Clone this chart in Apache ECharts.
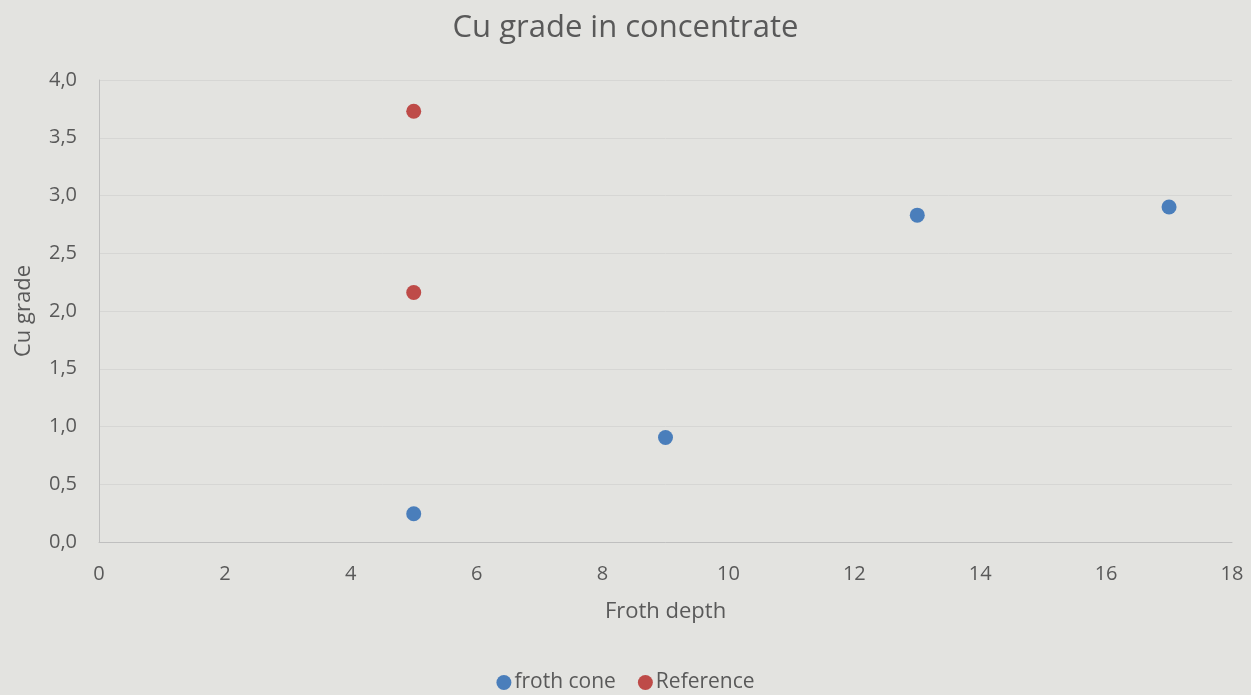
<!DOCTYPE html>
<html>
<head>
<meta charset="utf-8">
<title>Cu grade in concentrate</title>
<script src="https://cdn.jsdelivr.net/npm/echarts@6/dist/echarts.min.js"></script>
<style>
  html, body { margin: 0; padding: 0; background: #e3e3e0; }
  #chart { width: 1251px; height: 695px; }
</style>
</head>
<body>
<div id="chart"></div>
<script>
// froth depth / Cu grade pairs
const frothConeX = [5, 9, 13, 17];
const frothConeY = [0.245, 0.905, 2.83, 2.9];
const referenceX = [5, 5];
const referenceY = [3.73, 2.16];

const textColor = '#595959';
const font = 'Open Sans';

const pairs = (xs, ys) => xs.map((x, i) => [x, ys[i]]);

const chart = echarts.init(document.getElementById('chart'));

chart.setOption({
  backgroundColor: '#e3e3e0',
  textStyle: { fontFamily: font },
  title: {
    text: 'Cu grade in concentrate',
    left: 'center',
    top: 8,
    textStyle: { color: textColor, fontSize: 31, fontWeight: 'normal', fontFamily: font }
  },
  legend: {
    top: 667,
    left: 'center',
    icon: 'circle',
    itemWidth: 15,
    itemHeight: 15,
    itemGap: 22,
    textStyle: { color: textColor, fontSize: 21, fontFamily: font, padding: [0, 0, 0, -2] },
    data: ['froth cone', 'Reference']
  },
  grid: { left: 99, right: 19, top: 80, bottom: 153 },
  xAxis: {
    type: 'value',
    min: 0,
    max: 18,
    interval: 2,
    name: 'Froth depth',
    nameLocation: 'middle',
    nameGap: 59,
    nameTextStyle: { color: textColor, fontSize: 22, fontFamily: font },
    axisLine: { show: true, lineStyle: { color: '#bfbfbf', width: 1 } },
    axisTick: { show: false },
    axisLabel: { color: textColor, fontSize: 20, margin: 22, fontFamily: font },
    splitLine: { show: false }
  },
  yAxis: {
    type: 'value',
    min: 0,
    max: 4,
    interval: 0.5,
    name: 'Cu grade',
    nameLocation: 'middle',
    nameGap: 64,
    nameTextStyle: { color: textColor, fontSize: 22, fontFamily: font },
    axisLine: { show: true, lineStyle: { color: '#bfbfbf', width: 1 } },
    axisTick: { show: false },
    axisLabel: {
      color: textColor,
      fontSize: 20,
      margin: 22,
      fontFamily: font,
      formatter: v => v.toFixed(1).replace('.', ',')
    },
    splitLine: { show: true, lineStyle: { color: '#d6d6d4', width: 1 } }
  },
  series: [
    {
      name: 'froth cone',
      type: 'scatter',
      symbolSize: 15,
      itemStyle: { color: '#4a7ebb', opacity: 1 },
      data: pairs(frothConeX, frothConeY)
    },
    {
      name: 'Reference',
      type: 'scatter',
      symbolSize: 15,
      itemStyle: { color: '#be4b48', opacity: 1 },
      data: pairs(referenceX, referenceY)
    }
  ]
});

window.addEventListener('resize', () => {
  chart.resize();
});
</script>
</body>
</html>
